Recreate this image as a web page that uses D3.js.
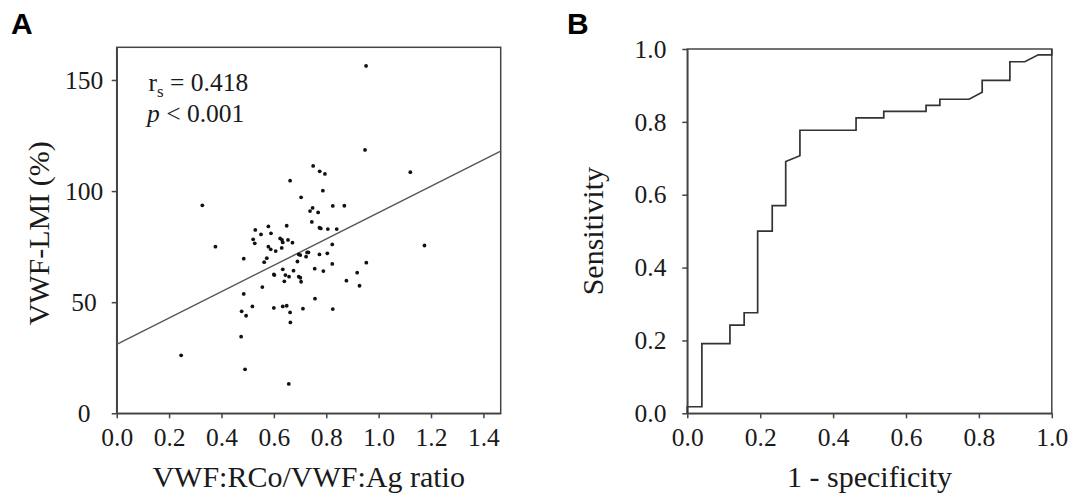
<!DOCTYPE html>
<html>
<head>
<meta charset="utf-8">
<script src="https://cdn.jsdelivr.net/npm/d3@7"></script>
<style>
  html, body { margin: 0; padding: 0; background: #fff; }
  svg { display: block; }
</style>
</head>
<body>
<svg id="chart" width="1073" height="502"></svg>
<script>
// ---- Panel A data: VWF:RCo/VWF:Ag ratio vs VWF-LMI (%) ----
const ratioX = [0.952,0.948,1.121,1.175,0.750,0.775,0.795,0.662,0.787,0.704,
  0.327,0.748,0.738,0.769,0.825,0.869,0.745,0.649,0.579,0.529,
  0.551,0.589,0.774,0.779,0.806,0.840,0.521,0.527,0.624,0.631,
  0.634,0.654,0.671,0.377,0.579,0.588,0.607,0.630,0.823,0.804,
  0.695,0.701,0.727,0.732,0.723,0.774,0.485,0.573,0.563,0.690,
  0.953,0.823,0.634,0.675,0.756,0.789,0.600,0.602,0.644,0.658,
  0.695,0.701,0.640,0.704,0.918,0.877,0.927,0.556,0.485,0.518,
  0.600,0.634,0.649,0.711,0.757,0.825,0.477,0.494,0.662,0.663,
  0.475,0.246,0.490,0.657];
const lmiY = [156.3,118.5,108.5,75.5,111.3,108.9,107.7,104.7,100.2,97.2,
  93.6,92.4,91.0,90.4,93.3,93.4,86.1,84.4,84.1,82.5,
  80.5,81.0,83.5,83.2,82.9,82.9,78.3,76.5,78.7,78.0,
  76.9,78.0,76.8,75.0,75.0,73.8,73.0,74.4,76.0,72.0,
  71.5,71.2,72.4,72.4,70.5,71.5,69.6,69.8,68.0,68.3,
  67.8,67.2,64.8,64.2,65.1,64.0,62.5,62.2,62.2,61.5,
  61.5,61.0,59.4,59.2,63.3,59.7,57.4,56.8,53.7,48.1,
  47.4,48.1,48.4,47.1,51.6,46.9,45.9,43.9,45.4,40.9,
  34.5,26.1,19.8,13.2];
const fitIntercept = 31.0;
const fitSlope = 59.3;
const aXTicks = [0.0,0.2,0.4,0.6,0.8,1.0,1.2,1.4];
const aYTicks = [0,50,100,150];

// ---- Panel B data: ROC curve ----
const rocFPR = [0,0,0.04,0.04,0.117,0.117,0.156,0.156,0.193,0.193,0.233,0.233,0.27,0.27,0.309,0.309,
  0.463,0.463,0.539,0.539,0.655,0.655,0.693,0.693,0.773,0.809,0.809,0.885,0.885,0.926,0.963,1.0,1.0];
const rocTPR = [0,0.018,0.018,0.191,0.191,0.242,0.242,0.276,0.276,0.50,0.50,0.57,0.57,0.691,0.707,0.777,
  0.777,0.811,0.811,0.829,0.829,0.845,0.845,0.862,0.862,0.881,0.914,0.914,0.965,0.965,0.984,0.984,1.0];
const bTicks = [0.0,0.2,0.4,0.6,0.8,1.0];

const svg = d3.select("#chart");
const axisColor = "#444";
const textColor = "#1a1a1a";
const serif = "Liberation Serif, Times New Roman, serif";

function styleAxis(g) {
  g.attr("font-family", serif).attr("font-size", 25.5);
  g.select(".domain").attr("stroke", axisColor).attr("stroke-width", 1.5);
  g.selectAll(".tick line").attr("stroke", axisColor).attr("stroke-width", 1.5);
  g.selectAll(".tick text").attr("fill", textColor)
    .style("font-family", serif).style("font-size", "25.5px");
}

// ===== Panel A =====
const aL = 116.7, aR = 500.7, aT = 47.3, aB = 413.3;
const ax = d3.scaleLinear().domain([0, 1.466]).range([aL, aR]);
const ay = d3.scaleLinear().domain([0, 164.7]).range([aB, aT]);

const gA = svg.append("g");
gA.append("rect").attr("x", aL).attr("y", aT).attr("width", aR - aL).attr("height", aB - aT)
  .attr("fill", "none").attr("stroke", axisColor).attr("stroke-width", 1.5);

const axA = gA.append("g").attr("transform", `translate(0,${aB})`)
  .call(d3.axisBottom(ax).tickValues(aXTicks).tickFormat(d3.format(".1f")).tickSize(5).tickSizeOuter(0).tickPadding(10));
styleAxis(axA);
const ayA = gA.append("g").attr("transform", `translate(${aL},0)`)
  .call(d3.axisLeft(ay).tickValues(aYTicks).tickSize(5).tickSizeOuter(0).tickPadding(10));
styleAxis(ayA);
ayA.selectAll(".tick text").attr("text-anchor", "middle").attr("x", 84 - aL);

// fit line
gA.append("line")
  .attr("x1", ax(0)).attr("y1", ay(fitIntercept))
  .attr("x2", ax(1.466)).attr("y2", ay(fitIntercept + fitSlope * 1.466))
  .attr("stroke", "#555").attr("stroke-width", 1.4);

// points
gA.selectAll("circle.pt").data(ratioX.map((x, i) => [x, lmiY[i]])).join("circle")
  .attr("class", "pt").attr("cx", d => ax(d[0])).attr("cy", d => ay(d[1])).attr("r", 1.9).attr("fill", "#111");

// stats text
const rs = gA.append("text").attr("x", 148.5).attr("y", 90.5)
  .style("font-family", serif).style("font-size", "25.5px").attr("fill", textColor);
rs.append("tspan").text("r");
rs.append("tspan").style("font-size", "17px").attr("dy", 6).text("s");
rs.append("tspan").attr("dy", -6).text(" = 0.418");
const pt = gA.append("text").attr("x", 147).attr("y", 121.5)
  .style("font-family", serif).style("font-size", "25.5px").attr("fill", textColor);
pt.append("tspan").style("font-style", "italic").text("p");
pt.append("tspan").text(" < 0.001");

// axis titles
gA.append("text").attr("x", (aL + aR) / 2).attr("y", 486.5).attr("text-anchor", "middle")
  .style("font-family", serif).style("font-size", "30px").attr("fill", textColor).text("VWF:RCo/VWF:Ag ratio");
gA.append("text").attr("transform", `translate(49,${(aT + aB) / 2 + 3}) rotate(-90)`).attr("text-anchor", "middle")
  .style("font-family", serif).style("font-size", "30px").attr("fill", textColor).text("VWF-LMI (%)");

// panel letter
svg.append("text").attr("x", 11).attr("y", 34.3).style("font-family", "Liberation Sans, Arial, sans-serif")
  .style("font-weight", "bold").style("font-size", "30px").attr("fill", "#000").text("A");

// ===== Panel B =====
const bL = 687.3, bR = 1051.8, bT = 49, bB = 413.3;
const bx = d3.scaleLinear().domain([0, 1]).range([bL, bR]);
const by = d3.scaleLinear().domain([0, 1]).range([bB, bT]);
const gB = svg.append("g");
gB.append("rect").attr("x", bL).attr("y", bT).attr("width", bR - bL).attr("height", bB - bT)
  .attr("fill", "none").attr("stroke", axisColor).attr("stroke-width", 1.5);

const bxA = gB.append("g").attr("transform", `translate(0,${bB})`)
  .call(d3.axisBottom(bx).tickValues(bTicks).tickFormat(d3.format(".1f")).tickSize(5).tickSizeOuter(0).tickPadding(10));
styleAxis(bxA);
const byA = gB.append("g").attr("transform", `translate(${bL},0)`)
  .call(d3.axisLeft(by).tickValues(bTicks).tickFormat(d3.format(".1f")).tickSize(5).tickSizeOuter(0).tickPadding(10));
styleAxis(byA);
byA.selectAll(".tick text").attr("text-anchor", "middle").attr("x", 650.5 - bL);

const rocLine = d3.line().x(d => bx(d[0])).y(d => by(d[1]));
gB.append("path").datum(rocFPR.map((f, i) => [f, rocTPR[i]]))
  .attr("d", rocLine).attr("fill", "none").attr("stroke", "#333").attr("stroke-width", 1.7);

gB.append("text").attr("x", (bL + bR) / 2).attr("y", 486.5).attr("text-anchor", "middle")
  .style("font-family", serif).style("font-size", "30px").attr("fill", textColor).text("1 - specificity");
gB.append("text").attr("transform", `translate(603,${(bT + bB) / 2}) rotate(-90)`).attr("text-anchor", "middle")
  .style("font-family", serif).style("font-size", "30px").attr("fill", textColor).text("Sensitivity");

svg.append("text").attr("x", 567).attr("y", 34.3).style("font-family", "Liberation Sans, Arial, sans-serif")
  .style("font-weight", "bold").style("font-size", "30px").attr("fill", "#000").text("B");
</script>
</body>
</html>
